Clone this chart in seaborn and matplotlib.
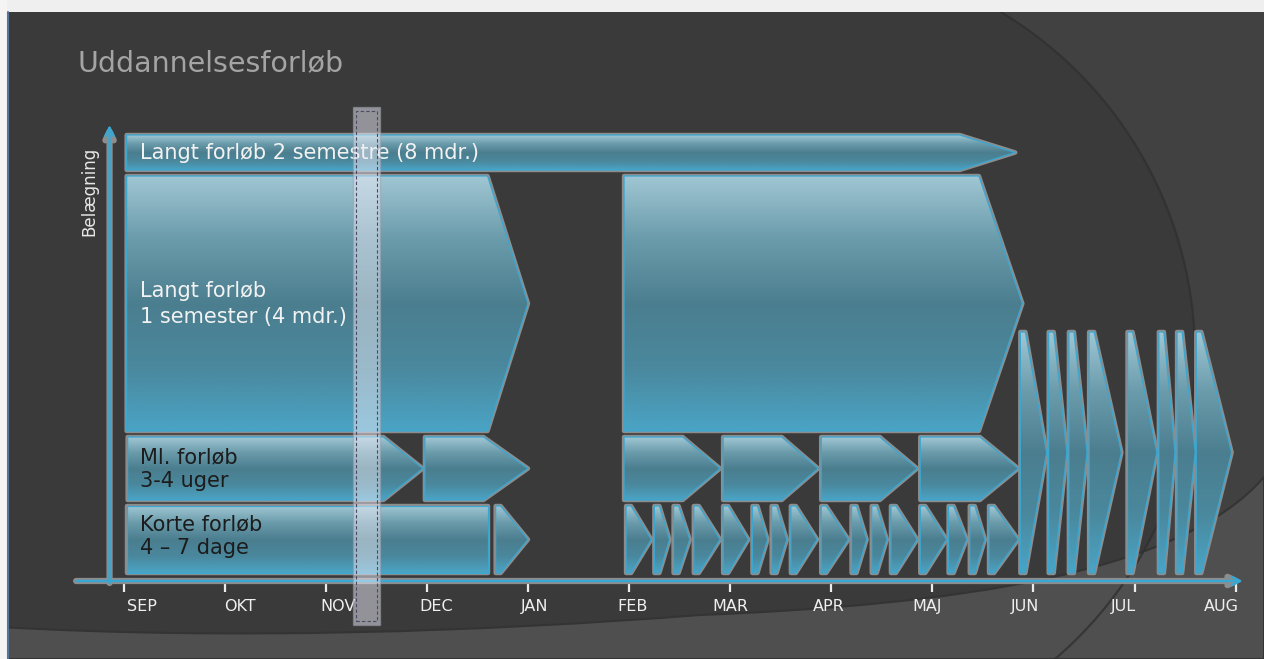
import numpy as np
import matplotlib
matplotlib.use("Agg")
import matplotlib.pyplot as plt
import seaborn as sns
from matplotlib.patches import Polygon, Rectangle, Circle, PathPatch, Arc
from matplotlib.path import Path

# ========== DATA ==========
months = ["SEP", "OKT", "NOV", "DEC", "JAN", "FEB", "MAR", "APR", "MAJ", "JUN", "JUL", "AUG"]

# rækker (bund, top) i belægnings-enheder
row_2sem = (411, 446)
row_1sem = (150, 405)
row_mid = (81, 144)
row_short = (8, 75)
row_summer = (8, 249)

# langt forløb 2 semestre (måneder fra SEP)
sem2_start = [0.03]
sem2_end = [8.27]
sem2_tip = [8.82]

# langt forløb 1 semester
sem1_start = [0.03, 4.95]
sem1_end = [3.60, 8.46]
sem1_tip = [4.00, 8.89]

# mellemlange forløb 3-4 uger
mid_start = [0.04, 2.98, 4.95, 5.93, 6.90, 7.88]
mid_end = [2.57, 3.56, 5.53, 6.51, 7.48, 8.47]
mid_tip = [2.96, 4.00, 5.90, 6.87, 7.85, 8.85]

# korte forløb 4-7 dage
short_block = [0.03, 3.60]
short_start = [3.68, 4.97, 5.25, 5.44, 5.64, 5.93, 6.22, 6.41, 6.60,
               6.90, 7.20, 7.40, 7.59, 7.88, 8.16, 8.37, 8.56]
short_tip = [4.00, 5.22, 5.40, 5.60, 5.90, 6.18, 6.37, 6.56, 6.86,
             7.17, 7.35, 7.55, 7.85, 8.14, 8.34, 8.52, 8.85]

# sommerforløb
summer_start = [8.87, 9.15, 9.35, 9.55, 9.93, 10.24, 10.42, 10.61]
summer_tip = [9.13, 9.33, 9.53, 9.87, 10.22, 10.40, 10.60, 10.96]

nov_band = (2.27, 2.54)

# ========== STYLE ==========
sns.set_theme(style="dark", rc={"axes.facecolor": "none", "figure.facecolor": "#3a3a3a"})
plt.rcParams["font.family"] = ["DejaVu Sans"]

grad_cmap = sns.blend_palette(["#4aa4c5", "#4a889d", "#4b7e8f", "#6a9bab", "#a0c6d3"], as_cmap=True)
grad = np.linspace(0, 1, 256).reshape(-1, 1)
halo_col = "#8d8d8d"
edge_col = "#3aa7d2"
thin_body = 0.05

fig = plt.figure(figsize=(12.64, 6.59), dpi=100)

# ---------- baggrund (pixel-koordinater) ----------
bg = fig.add_axes([0, 0, 1, 1], zorder=0)
bg.set_xlim(0, 1264)
bg.set_ylim(659, 0)
bg.axis("off")
bg.add_patch(Rectangle((0, 0), 1264, 659, fc="#3a3a3a", ec="none"))
bg.add_patch(Rectangle((795, 0), 469, 659, fc="#414141", ec="none"))
bg.add_patch(Circle((795, 355), 400, fc="#3a3a3a", ec="none"))
verts = [(0, 627), (230, 640), (480, 632), (700, 615),
         (950, 605), (1180, 575), (1264, 477),
         (1264, 659), (0, 659), (0, 627)]
codes = [Path.MOVETO, Path.CURVE4, Path.CURVE4, Path.CURVE4,
         Path.CURVE4, Path.CURVE4, Path.CURVE4,
         Path.LINETO, Path.LINETO, Path.CLOSEPOLY]
bg.add_patch(PathPatch(Path(verts, codes), fc="#4f4f4f", ec="#343434", lw=1.5))
bg.add_patch(Arc((795, 355), 800, 800, theta1=-62, theta2=55, color="#303030", lw=1.6, alpha=0.8))
bg.add_patch(Rectangle((0, 0), 1264, 12, fc="#efefef", ec="none"))
bg.add_patch(Rectangle((0, 0), 7, 659, fc="#f4f4f4", ec="none"))
bg.plot([7.5, 7.5], [12, 659], color="#55759c", lw=1.5)

# ---------- hovedakse ----------
ax = fig.add_axes([0, 0, 1, 1], zorder=1)
ax.set_facecolor("none")


def chevron(x0, xb, xt, y0, y1, z=3):
    ym = (y0 + y1) / 2
    pts = [(x0, y0), (xb, y0), (xt, ym), (xb, y1), (x0, y1)]
    ax.add_patch(Polygon(pts, closed=True, fc="none", ec=halo_col, lw=3.2,
                         joinstyle="round", zorder=z))
    clip = Polygon(pts, closed=True, fc="none", ec="none", zorder=z)
    ax.add_patch(clip)
    im = ax.imshow(grad, extent=[x0, xt, y0, y1], origin="lower", cmap=grad_cmap,
                   aspect="auto", interpolation="bilinear", zorder=z + 0.1)
    im.set_clip_path(clip)
    ax.add_patch(Polygon(pts, closed=True, fc="none", ec=edge_col, lw=0.9,
                         joinstyle="miter", zorder=z + 0.2))


for s, e, t in zip(sem2_start, sem2_end, sem2_tip):
    chevron(s, e, t, *row_2sem)
for s, e, t in zip(sem1_start, sem1_end, sem1_tip):
    chevron(s, e, t, *row_1sem)
for s, e, t in zip(mid_start, mid_end, mid_tip):
    chevron(s, e, t, *row_mid)
chevron(short_block[0], short_block[1], short_block[1], *row_short)
for s, t in zip(short_start, short_tip):
    chevron(s, s + thin_body, t, *row_short)
for s, t in zip(summer_start, summer_tip):
    chevron(s, s + thin_body, t, *row_summer)

# tekster i felterne
ax.text(0.16, 428, "Langt forløb 2 semestre (8 mdr.)", fontsize=15, color="#f2f2f2",
        va="center", ha="left", zorder=6)
ax.text(0.16, 277, "Langt forløb\n1 semester (4 mdr.)", fontsize=15, color="#f2f2f2",
        va="center", ha="left", linespacing=1.35, zorder=6)
ax.text(0.16, 112, "Ml. forløb\n3-4 uger", fontsize=15, color="#1c1c1c",
        va="center", ha="left", linespacing=1.2, zorder=6)
ax.text(0.16, 45, "Korte forløb\n4 – 7 dage", fontsize=15, color="#1c1c1c",
        va="center", ha="left", linespacing=1.2, zorder=6)

# NOV markering
ax.add_patch(Rectangle((nov_band[0], -44), nov_band[1] - nov_band[0], 518,
                       fc="#ebebf6", alpha=0.5, ec="#9a9aa8", lw=1, zorder=10))
ax.add_patch(Rectangle((nov_band[0] + 0.03, -40), nov_band[1] - nov_band[0] - 0.06, 510,
                       fc="none", ec="#4b4a66", ls=(0, (3, 2)), lw=0.8, zorder=11))

# akser med pile
for lw, col in [(4.5, halo_col), (1.8, edge_col)]:
    ax.annotate("", xy=(11.07, 0), xytext=(-0.47, 0),
                arrowprops=dict(arrowstyle="->,head_length=0.5,head_width=0.25",
                                color=col, lw=lw, shrinkA=0, shrinkB=0), zorder=2)
    ax.annotate("", xy=(-0.139, 456), xytext=(-0.139, -2),
                arrowprops=dict(arrowstyle="->,head_length=0.5,head_width=0.25",
                                color=col, lw=lw, shrinkA=0, shrinkB=0), zorder=2)

ax.set_xlim(-1.2226, 11.280)
ax.set_ylim(-78, 581)

for side in ["top", "right", "left", "bottom"]:
    ax.spines[side].set_visible(False)
ax.spines["bottom"].set_position(("data", 0))

ax.set_xticks(range(len(months)))
ax.set_xticklabels([])
label_pos = np.linspace(0.18, 10.86, len(months))
ax.set_xticks(label_pos, minor=True)
ax.set_xticklabels(months, minor=True)
ax.tick_params(axis="x", which="major", direction="out", length=8, width=1.6,
               color="#ececec", bottom=True)
ax.tick_params(axis="x", which="minor", length=0, pad=13, labelsize=11.5,
               labelcolor="#efefef", bottom=True)
ax.set_yticks([])
ax.grid(False)

ax.set_ylabel("Belægning", fontsize=12, color="#e8e8e8")
ax.yaxis.set_label_coords(0.0775, 0.709)

fig.text(78 / 1264, 1 - 71 / 659, "Uddannelsesforløb", fontsize=20.5, color="#a4a4a4",
         va="baseline", ha="left")

plt.savefig("out.png", dpi=100)
